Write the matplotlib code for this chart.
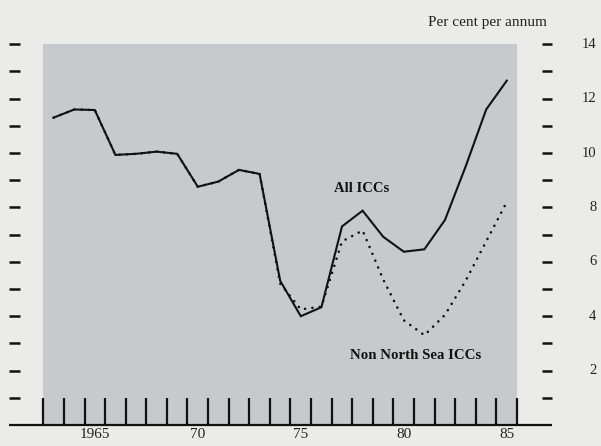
import numpy as np
import matplotlib.pyplot as plt

# Yıllık veriler (yıl ortasında çizilir)
yillar = [1963, 1964, 1965, 1966, 1967, 1968, 1969, 1970, 1971, 1972, 1973, 1974,
          1975, 1976, 1977, 1978, 1979, 1980, 1981, 1982, 1983, 1984, 1985]
tum_icc = [11.3, 11.6, 11.58, 9.93, 9.97, 10.05, 9.97, 8.76, 8.95, 9.38, 9.23, 5.3,
           4.0, 4.33, 7.3, 7.88, 6.92, 6.37, 6.46, 7.54, 9.5, 11.6, 12.66]
kuzey_disi = [11.3, 11.6, 11.58, 9.93, 9.97, 10.05, 9.97, 8.76, 8.95, 9.38, 9.23, 5.2,
              4.25, 4.35, 6.75, 7.15, 5.35, 3.85, 3.3, 4.05, 5.3, 6.75, 8.2]

y_etiketleri = [2, 4, 6, 8, 10, 12, 14]
x_etiketleri = ['1965', '70', '75', '80', '85']
x_etiket_yillari = [1965, 1970, 1975, 1980, 1985]

serif = ['Liberation Serif', 'DejaVu Serif']
zemin = '#ebebe9'
panel_rengi = '#c7cacc'

fig = plt.figure(figsize=(6.01, 4.46), dpi=100, facecolor=zemin)
ax = fig.add_axes([0, 0, 1, 1])
ax.set_facecolor(zemin)
ax.set_xlim(1960.898, 1990.073)
ax.set_ylim(-0.772, 15.625)
ax.axis('off')

# gri panel
ax.axvspan(1963, 1986, ymin=0.772 / 16.397, ymax=(0.772 + 14) / 16.397,
           color=panel_rengi, lw=0, zorder=0)

# seriler
x = np.array(yillar) + 0.5
ax.plot(x, kuzey_disi, color='#111111', lw=1.9, linestyle=(0, (0.01, 2.8)),
        dash_capstyle='round', zorder=3)
ax.plot(x, tum_icc, color='#111111', lw=1.5, zorder=4, solid_joinstyle='miter')

# sol ve sağ kısa çizgiler
for v in range(1, 15):
    ax.plot([1961.35, 1961.88], [v, v], color='#111111', lw=1.8, solid_capstyle='butt')
    ax.plot([1987.2, 1987.7], [v, v], color='#111111', lw=1.8, solid_capstyle='butt')

# alt eksen çizgisi ve yıl çentikleri
ax.plot([1961.35, 1987.7], [0, 0], color='#111111', lw=1.6, solid_capstyle='butt')
for yil in range(1963, 1987):
    ax.plot([yil, yil], [0, 0.98], color='#111111', lw=1.6, solid_capstyle='butt')

# etiketler
for v in y_etiketleri:
    ax.text(1989.85, v, str(v), ha='right', va='center', fontsize=10.5,
            family=serif, color='#222222')
for yil, lab in zip(x_etiket_yillari, x_etiketleri):
    ax.text(yil + 0.5, -0.12, lab, ha='center', va='top', fontsize=11,
            family=serif, color='#222222')

ax.text(1984.55, 14.8, 'Per cent per annum', ha='center', va='center', fontsize=11,
        family=serif, color='#222222')
ax.text(1978.45, 8.7, 'All ICCs', ha='center', va='center', fontsize=10.5,
        family=serif, fontweight='bold', color='#111111')
ax.text(1981.05, 2.57, 'Non North Sea ICCs', ha='center', va='center', fontsize=10.7,
        family=serif, fontweight='bold', color='#111111')

fig.savefig('out.png', dpi=100, facecolor=zemin)
